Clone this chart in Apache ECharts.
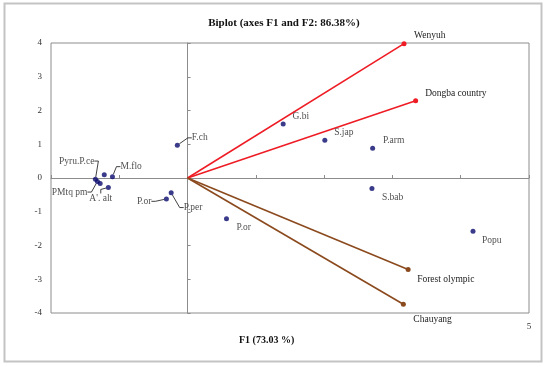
<!DOCTYPE html>
<html>
<head>
<meta charset="utf-8">
<script src="https://cdn.jsdelivr.net/npm/echarts@6/dist/echarts.min.js"></script>
<style>html,body{margin:0;padding:0;background:#fff;}#c{width:550px;height:367px;}</style>
</head>
<body>
<div id="c"></div>
<script>
// ---- data ----
const vecNames = ['Wenyuh', 'Dongba country', 'Forest olympic', 'Chauyang'];
const vecX = [3.17, 3.34, 3.23, 3.16];
const vecY = [3.98, 2.29, -2.71, -3.74];

const obsNames = ['G.bi', 'S.jap', 'P.arm', 'S.bab', 'Popu', 'P.or', 'F.ch', 'P.per', 'P.or', 'M.flo', '', 'Pyru.P.ce', 'PMtq pm', '', "A'. alt"];
const obsX = [1.40, 2.01, 2.71, 2.70, 4.18, 0.57, -0.15, -0.24, -0.31, -1.10, -1.22, -1.35, -1.32, -1.28, -1.16];
const obsY = [1.60, 1.12, 0.88, -0.31, -1.58, -1.21, 0.97, -0.44, -0.62, 0.04, 0.10, -0.04, -0.10, -0.16, -0.28];

const xTickLabels = {5: '5'};
const yTickMin = -4, yTickMax = 4;

// ---- style / layout config ----
const FONT = '"Liberation Serif", "DejaVu Serif", serif';
const vecColors = ['#ee1c24', '#ee1c24', '#8b4a1e', '#8b4a1e'];
const vecLabelOffsets = [[2.5, -8], [2, -7], [1.5, 10], [2.5, 15]];
// label placement for observations: [position, dx, dy, leaderLine]
const obsLabelCfg = [
  ['right', 1.8, -7.3, false],
  ['right', 1.8, -7.7, false],
  ['right', 2.8, -7.7, false],
  ['right', 2.5, 8.7, false],
  ['right', 1.5, 9, false],
  ['right', 2.5, 9, false],
  ['right', 7, -7.4, true],
  ['right', 5, 14.7, true],
  ['left', -7.5, 2.4, true],
  ['right', 0.5, -10, true],
  ['right', 0, 0, false],
  ['left', 6.5, -18.3, true],
  ['left', -2.5, 10.7, true],
  ['right', 0, 0, false],
  ['right', -26.5, 11, true]
];

const chart = echarts.init(document.getElementById('c'), null, {renderer: 'canvas'});

const vecSeries = vecNames.map((n, i) => ({
  type: 'line',
  xAxisIndex: 0, yAxisIndex: 0,
  data: [
    {value: [0, 0], symbol: 'none'},
    {value: [vecX[i], vecY[i]], symbol: 'circle', symbolSize: 5,
     label: {show: true, formatter: n, position: 'right', offset: vecLabelOffsets[i],
             color: '#222', fontFamily: FONT, fontSize: 9.5}}
  ],
  lineStyle: {color: vecColors[i], width: 1.6},
  itemStyle: {color: vecColors[i]},
  showAllSymbol: true,
  silent: true,
  animation: false,
  z: 3
}));

const obsData = obsNames.map((n, i) => {
  const c = obsLabelCfg[i];
  return {
    value: [obsX[i], obsY[i]],
    name: n,
    label: {show: n !== '', formatter: n, position: c[0]},
    labelLine: {show: c[3], length2: 4, lineStyle: {color: '#111', width: 0.8}}
  };
});

chart.setOption({
  animation: false,
  backgroundColor: '#fff',
  title: {
    text: 'Biplot (axes F1 and F2: 86.38%)',
    left: 279, top: 13, textAlign: 'center',
    textStyle: {fontFamily: FONT, fontSize: 11, fontWeight: 'bold', color: '#111'}
  },
  graphic: [{
    type: 'rect', silent: true,
    shape: {x: 4.5, y: 3.5, width: 537, height: 358},
    style: {fill: 'none', stroke: '#c4c4c4', lineWidth: 2}
  }, {
    type: 'text', left: 239, top: 335, silent: true,
    style: {text: 'F1 (73.03 %)', font: 'bold 10px ' + FONT, fill: '#111'}
  }],
  grid: {left: 51, right: 21, top: 43, bottom: 54, show: true, borderColor: '#8c8c8c', borderWidth: 1, backgroundColor: 'transparent'},
  xAxis: [{
    type: 'value', min: -2, max: 5, interval: 1, position: 'bottom',
    axisLine: {show: false, onZero: false}, axisTick: {show: false}, splitLine: {show: false},
    axisLabel: {formatter: v => xTickLabels[v] || '', fontFamily: FONT, fontSize: 9, color: '#333', margin: 9}
  }, {
    type: 'value', min: -2, max: 5, interval: 1,
    axisLine: {show: true, onZero: true, lineStyle: {color: '#8c8c8c', width: 1}},
    axisTick: {show: true, length: 3, lineStyle: {color: '#8c8c8c'}},
    axisLabel: {show: false}, splitLine: {show: false}
  }],
  yAxis: [{
    type: 'value', min: yTickMin, max: yTickMax, interval: 1, position: 'left',
    axisLine: {show: false, onZero: false}, axisTick: {show: false}, splitLine: {show: false},
    axisLabel: {fontFamily: FONT, fontSize: 9, color: '#333', margin: 9}
  }, {
    type: 'value', min: yTickMin, max: yTickMax, interval: 1,
    axisLine: {show: true, onZero: true, lineStyle: {color: '#8c8c8c', width: 1}},
    axisTick: {show: true, length: 3, lineStyle: {color: '#8c8c8c'}},
    axisLabel: {show: false}, splitLine: {show: false}
  }],
  series: vecSeries.concat([{
    type: 'scatter',
    xAxisIndex: 0, yAxisIndex: 0,
    symbol: 'circle', symbolSize: 5,
    itemStyle: {color: '#0a0a6e'},
    label: {show: true, color: '#222', fontFamily: FONT, fontSize: 9.5},
    labelLayout: p => ({dx: obsLabelCfg[p.dataIndex][1], dy: obsLabelCfg[p.dataIndex][2]}),
    data: obsData,
    z: 4
  }])
});
</script>
</body>
</html>
